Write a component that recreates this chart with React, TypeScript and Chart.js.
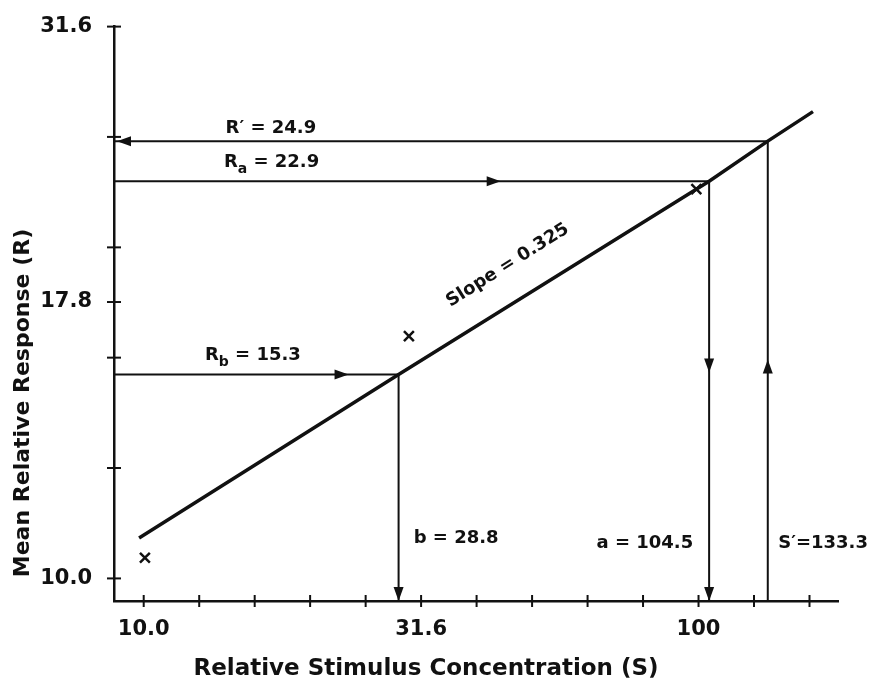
import React, { useEffect, useRef } from 'react';
import { Chart, registerables } from 'chart.js';

Chart.register(...registerables);

const FONT = '"DejaVu Sans", sans-serif';
const INK = '#111111';

// Axis ticks (log spaced every 0.1 decade) and their labels
const xTickValues = [10, 12.59, 15.85, 19.95, 25.12, 31.62, 39.81, 50.12, 63.1, 79.43, 100, 125.9, 158.5];
const xTickLabels = ['10.0', '', '', '', '', '31.6', '', '', '', '', '100', '', ''];
const yTickValues = [10, 12.59, 15.85, 17.8, 19.95, 25.12, 31.62];
const yTickLabels = ['10.0', '', '', '17.8', '', '', '31.6'];

const xRange = [8.84, 178.4];
const yRange = [9.54, 31.62];

// Fitted line (slope 0.325 in log-log)
const fitS = [9.81, 28.8, 104.5, 133.3, 160.8];
const fitR = [10.88, 15.3, 22.9, 24.9, 26.48];

// Observed points (x markers)
const obsS = [10.05, 30.06, 99.1];
const obsR = [10.44, 16.58, 22.53];

// Read-off constructions: b/Rb, a/Ra, S'/R'
const readS = [28.8, 104.5, 133.3];
const readR = [15.3, 22.9, 24.9];

// Arrowhead tips (data units) and directions
const arrowS = [8.95, 44.0, 23.4, 28.8, 104.5, 104.5, 133.3];
const arrowR = [24.9, 22.9, 15.3, yRange[0], 15.37, yRange[0], 15.79];
const arrowDir = ['left', 'right', 'right', 'down', 'down', 'down', 'up'];

// Annotation labels
const labelParts: [string, number][][] = [
  [['R′ = 24.9', 0]],
  [['R', 0], ['a', 1], [' = 22.9', 0]],
  [['R', 0], ['b', 1], [' = 15.3', 0]],
  [['b = 28.8', 0]],
  [['a = 104.5', 0]],
  [['S′=133.3', 0]],
];
const labelS = [16.95, 17.0, 15.73, 30.66, 97.8, 139.2];
const labelR = [25.6, 23.8, 15.92, 10.88, 10.75, 10.75];
const labelAlign = ['center', 'center', 'center', 'left', 'right', 'left'];

const slopeText = 'Slope = 0.325';
const slopeS = 45.3;
const slopeR = 19.22;

const xTitle = 'Relative Stimulus Concentration (S)';
const yTitle = 'Mean Relative Response (R)';

function drawArrow(ctx: CanvasRenderingContext2D, x: number, y: number, dir: string) {
  const len = 14;
  const half = 5;
  ctx.beginPath();
  if (dir === 'down') {
    ctx.moveTo(x, y); ctx.lineTo(x - half, y - len); ctx.lineTo(x + half, y - len);
  } else if (dir === 'up') {
    ctx.moveTo(x, y); ctx.lineTo(x - half, y + len); ctx.lineTo(x + half, y + len);
  } else if (dir === 'left') {
    ctx.moveTo(x, y); ctx.lineTo(x + len, y - half); ctx.lineTo(x + len, y + half);
  } else {
    ctx.moveTo(x, y); ctx.lineTo(x - len, y - half); ctx.lineTo(x - len, y + half);
  }
  ctx.closePath();
  ctx.fill();
}

function drawRich(ctx: CanvasRenderingContext2D, parts: [string, number][], x: number, y: number, align: string) {
  const mainFont = `bold 18px ${FONT}`;
  const subFont = `bold 14px ${FONT}`;
  let total = 0;
  const widths = parts.map(([t, sub]) => {
    ctx.font = sub ? subFont : mainFont;
    const w = ctx.measureText(t).width;
    total += w;
    return w;
  });
  let cx = align === 'center' ? x - total / 2 : align === 'right' ? x - total : x;
  ctx.textAlign = 'left';
  ctx.textBaseline = 'middle';
  parts.forEach(([t, sub], i) => {
    ctx.font = sub ? subFont : mainFont;
    ctx.fillText(t, cx, sub ? y + 7 : y);
    cx += widths[i];
  });
}

const annotatePlugin = {
  id: 'annotate',
  afterDatasetsDraw(chart: any) {
    const { ctx, chartArea } = chart;
    const xs = chart.scales.x;
    const ys = chart.scales.y;
    ctx.save();
    ctx.fillStyle = INK;
    ctx.strokeStyle = INK;
    ctx.lineWidth = 2;
    ctx.lineCap = 'butt';

    // tick marks crossing the axes
    xTickValues.forEach((v) => {
      const px = xs.getPixelForValue(v);
      ctx.beginPath();
      ctx.moveTo(px, chartArea.bottom - 6);
      ctx.lineTo(px, chartArea.bottom + 6);
      ctx.stroke();
    });
    yTickValues.forEach((v) => {
      const py = ys.getPixelForValue(v);
      ctx.beginPath();
      ctx.moveTo(chartArea.left - 7, py);
      ctx.lineTo(chartArea.left + 7, py);
      ctx.stroke();
    });

    // arrowheads
    arrowS.forEach((s, i) => {
      drawArrow(ctx, xs.getPixelForValue(s), ys.getPixelForValue(arrowR[i]), arrowDir[i]);
    });

    // labels
    labelParts.forEach((parts, i) => {
      drawRich(ctx, parts, xs.getPixelForValue(labelS[i]), ys.getPixelForValue(labelR[i]), labelAlign[i]);
    });

    // slope label along the fitted line
    const x0 = xs.getPixelForValue(fitS[0]);
    const y0 = ys.getPixelForValue(fitR[0]);
    const x1 = xs.getPixelForValue(fitS[fitS.length - 1]);
    const y1 = ys.getPixelForValue(fitR[fitR.length - 1]);
    const ang = Math.atan2(y1 - y0, x1 - x0);
    ctx.save();
    ctx.translate(xs.getPixelForValue(slopeS), ys.getPixelForValue(slopeR));
    ctx.rotate(ang);
    ctx.font = `bold 18px ${FONT}`;
    ctx.textAlign = 'center';
    ctx.textBaseline = 'middle';
    ctx.fillText(slopeText, 0, 0);
    ctx.restore();

    // axis titles
    ctx.textAlign = 'center';
    ctx.textBaseline = 'middle';
    ctx.font = `bold 23px ${FONT}`;
    ctx.fillText(xTitle, 426, 669);
    ctx.font = `bold 22px ${FONT}`;
    ctx.save();
    ctx.translate(23, 403);
    ctx.rotate(-Math.PI / 2);
    ctx.fillText(yTitle, 0, 0);
    ctx.restore();

    ctx.restore();
  },
};

export default function App() {
  const ref = useRef<HTMLCanvasElement>(null);
  useEffect(() => {
    const lineDs = (pts: { x: number; y: number }[], w: number) => ({
      data: pts,
      showLine: true,
      borderColor: INK,
      borderWidth: w,
      pointRadius: 0,
      fill: false,
      clip: false as any,
    });
    const datasets: any[] = [
      lineDs(fitS.map((s, i) => ({ x: s, y: fitR[i] })), 3.5),
      {
        data: obsS.map((s, i) => ({ x: s, y: obsR[i] })),
        showLine: false,
        pointStyle: 'crossRot',
        pointRadius: 7,
        borderColor: INK,
        backgroundColor: INK,
        pointBorderWidth: 2.5,
      },
    ];
    readS.forEach((s, i) => {
      datasets.push(lineDs([{ x: xRange[0], y: readR[i] }, { x: s, y: readR[i] }], 2));
      datasets.push(lineDs([{ x: s, y: readR[i] }, { x: s, y: yRange[0] }], 2));
    });

    const chart = new Chart(ref.current!, {
      type: 'scatter',
      data: { datasets },
      options: {
        responsive: false,
        animation: false,
        events: [],
        layout: { padding: { top: 21, right: 38, left: 0, bottom: 0 } },
        plugins: { legend: { display: false }, tooltip: { enabled: false } },
        scales: {
          x: {
            type: 'logarithmic',
            min: xRange[0],
            max: xRange[1],
            grid: { display: false },
            border: { display: true, color: INK, width: 2.5 },
            afterBuildTicks: (scale: any) => {
              scale.ticks = xTickValues.map((v) => ({ value: v }));
            },
            afterFit: (scale: any) => {
              scale.height = 82;
            },
            ticks: {
              autoSkip: false,
              maxRotation: 0,
              minRotation: 0,
              padding: 8,
              color: INK,
              font: { family: FONT, weight: 'bold', size: 21 },
              callback: (_v: any, i: number) => xTickLabels[i],
            },
          },
          y: {
            type: 'logarithmic',
            min: yRange[0],
            max: yRange[1],
            grid: { display: false },
            border: { display: true, color: INK, width: 2.5 },
            afterBuildTicks: (scale: any) => {
              scale.ticks = yTickValues.map((v) => ({ value: v }));
            },
            afterFit: (scale: any) => {
              scale.width = 114;
            },
            ticks: {
              autoSkip: false,
              padding: 14,
              color: INK,
              font: { family: FONT, weight: 'bold', size: 21 },
              callback: (_v: any, i: number) => yTickLabels[i],
            },
          },
        },
      } as any,
      plugins: [annotatePlugin],
    });
    return () => chart.destroy();
  }, []);

  return (
    <div style={{ position: 'absolute', left: 0, top: 0, width: 876, height: 683, background: '#fff' }}>
      <canvas ref={ref} width={876} height={683} style={{ display: 'block' }} />
    </div>
  );
}
